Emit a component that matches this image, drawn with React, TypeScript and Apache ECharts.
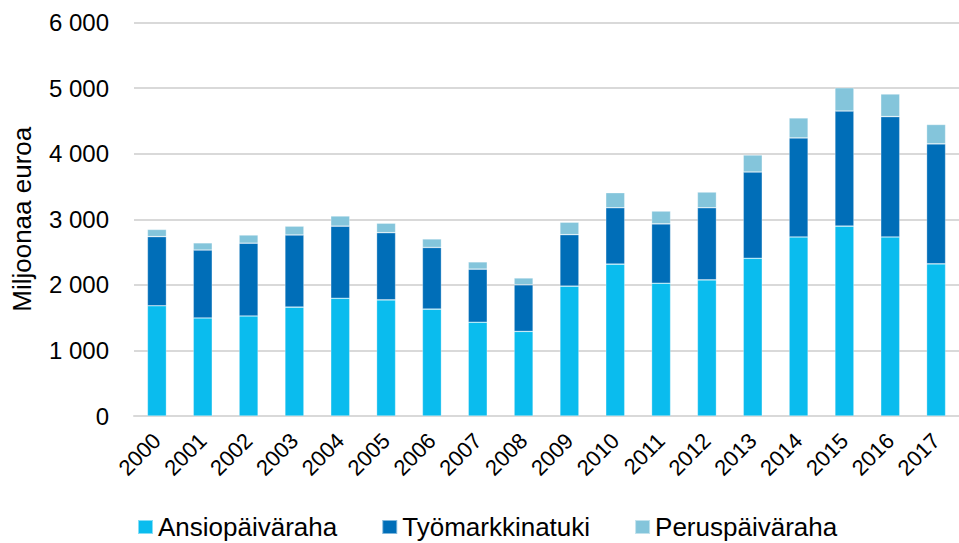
import React, { useEffect, useRef } from "react";
import * as echarts from "echarts";

const years = ["2000","2001","2002","2003","2004","2005","2006","2007","2008","2009","2010","2011","2012","2013","2014","2015","2016","2017"];
const ansiopaivaraha = [1680,1495,1525,1660,1795,1770,1630,1430,1290,1980,2315,2025,2075,2405,2730,2895,2730,2320];
const tyomarkkinatuki = [1055,1035,1110,1100,1100,1025,940,810,710,785,860,905,1100,1315,1510,1755,1835,1830];
const peruspaivaraha = [110,110,125,135,155,145,130,110,105,190,230,195,240,260,305,355,345,295];
const yTicks = [0, 1000, 2000, 3000, 4000, 5000, 6000];

const FONT = "Liberation Sans, Arial, sans-serif";

export default function App() {
  const ref = useRef<HTMLDivElement>(null);
  useEffect(() => {
    document.body.style.margin = "0";
    const chart = echarts.init(ref.current!, undefined, { renderer: "svg" });
    const mk = (name: string, data: number[], color: string) => ({
      name,
      type: "bar",
      stack: "total",
      data,
      barWidth: 19,
      itemStyle: { color, borderColor: "rgba(255,255,255,0.5)", borderWidth: 0.6 },
    });
    chart.setOption({
      animation: false,
      textStyle: { fontFamily: FONT },
      grid: { left: 134, top: 22.5, width: 833, height: 393.5, containLabel: false },
      legend: {
        left: 137,
        top: 514,
        padding: 0,
        itemWidth: 15,
        itemHeight: 14,
        itemGap: 44,
        icon: "rect",
        textStyle: { fontSize: 26, color: "#000", fontFamily: FONT },
        data: ["Ansiopäiväraha", "Työmarkkinatuki", "Peruspäiväraha"],
      },
      xAxis: {
        type: "category",
        data: years,
        axisLine: { lineStyle: { color: "#D9D9D9", width: 2 } },
        axisTick: { show: false },
        axisLabel: { rotate: 45, interval: 0, fontSize: 22, color: "#000", margin: 21, fontFamily: FONT },
      },
      yAxis: {
        type: "value",
        min: yTicks[0],
        max: yTicks[yTicks.length - 1],
        interval: 1000,
        name: "Miljoonaa euroa",
        nameLocation: "middle",
        nameGap: 99,
        nameTextStyle: { fontSize: 26, color: "#000", fontFamily: FONT },
        axisLine: { show: false },
        axisTick: { show: false },
        splitLine: { lineStyle: { color: "#D9D9D9", width: 2 } },
        axisLabel: {
          fontSize: 24,
          color: "#000",
          margin: 25,
          fontFamily: FONT,
          formatter: (v: number) => String(v).replace(/\B(?=(\d{3})+(?!\d))/g, " "),
        },
      },
      series: [
        mk("Ansiopäiväraha", ansiopaivaraha, "#0ABCEE"),
        mk("Työmarkkinatuki", tyomarkkinatuki, "#006EB8"),
        mk("Peruspäiväraha", peruspaivaraha, "#84C5DB"),
      ],
    });
    return () => chart.dispose();
  }, []);
  return <div ref={ref} style={{ width: 959, height: 543 }} />;
}
